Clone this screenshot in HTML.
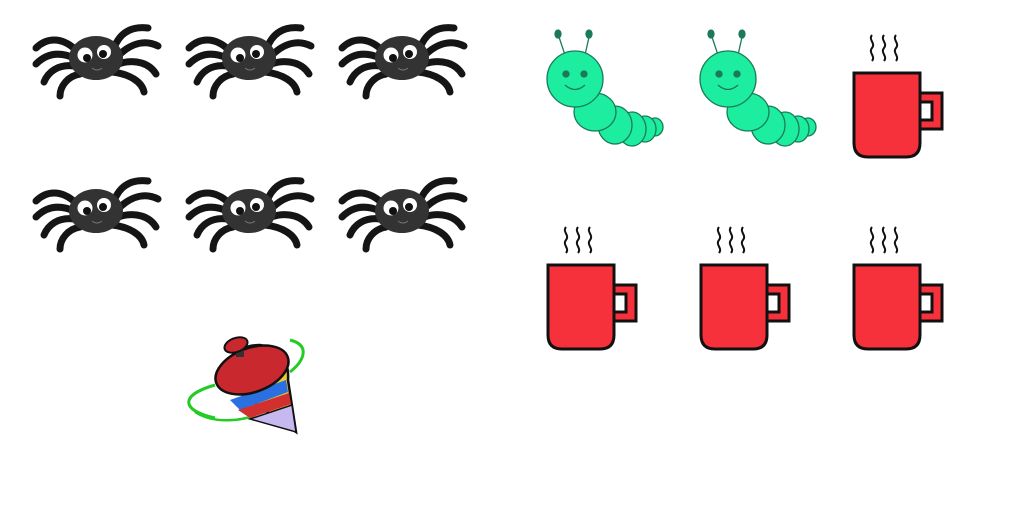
<!DOCTYPE html>
<html><head><meta charset="utf-8"><style>html,body{margin:0;padding:0;background:#fff;width:1024px;height:512px;overflow:hidden}</style></head>
<body>
<svg width="1024" height="512" viewBox="0 0 1024 512">
<defs>
<g id="spider">
  <g fill="none" stroke="#151515" stroke-width="7" stroke-linecap="round">
    <path d="M-20,-8 C-35,-22 -50,-20 -60,-10"/>
    <path d="M-22,0 C-40,-8 -52,-2 -60,6"/>
    <path d="M-22,8 C-38,6 -48,14 -52,24"/>
    <path d="M-16,16 C-28,18 -36,28 -36,38"/>
    <path d="M18,-10 C24,-26 36,-32 52,-30"/>
    <path d="M22,-2 C36,-16 50,-18 62,-12"/>
    <path d="M22,6 C40,0 54,6 60,16"/>
    <path d="M16,14 C34,16 46,24 48,34"/>
  </g>
  <ellipse cx="0" cy="0" rx="27" ry="22" fill="#333"/>
  <circle cx="-11" cy="-3" r="7.5" fill="#fff"/><circle cx="-9" cy="0" r="4" fill="#111"/>
  <circle cx="8" cy="-6" r="7" fill="#fff"/><circle cx="7" cy="-4" r="4" fill="#111"/>
  <path d="M-4,10 Q1,14 6,10" fill="none" stroke="#777" stroke-width="1"/>
</g>
<g id="cat" stroke="#1a7a5a" stroke-width="1.3" fill="#1ded9f">
  <path d="M-10,-24 L-16,-42" fill="none"/><path d="M10,-24 L14,-42" fill="none"/>
  <ellipse cx="-17" cy="-45" rx="3" ry="4" fill="#1a7a5a"/><ellipse cx="14" cy="-45" rx="3" ry="4" fill="#1a7a5a"/>
  <ellipse cx="80" cy="48" rx="8" ry="9"/>
  <ellipse cx="70" cy="50" rx="11" ry="13"/>
  <ellipse cx="57" cy="50" rx="14" ry="17"/>
  <ellipse cx="40" cy="46" rx="17" ry="19"/>
  <ellipse cx="20" cy="33" rx="21" ry="19"/>
  <circle cx="0" cy="0" r="28"/>
  <circle cx="-9" cy="-5" r="3" fill="#1a7a5a"/><circle cx="9" cy="-5" r="3" fill="#1a7a5a"/>
  <path d="M-10,6 Q0,15 10,6" fill="none"/>
</g>
<g id="mug">
  <g fill="none" stroke="#111" stroke-width="2">
    <path d="M20,0 c-4,5 4,8 0,13 c-4,5 4,8 0,13"/>
    <path d="M32,0 c-4,5 4,8 0,13 c-4,5 4,8 0,13"/>
    <path d="M44,0 c-4,5 4,8 0,13 c-4,5 4,8 0,13"/>
  </g>
  <path d="M66,58 h24 v36 h-24" fill="#f7313b" stroke="#111" stroke-width="3"/>
  <rect x="68" y="67" width="12" height="18" fill="#fff" stroke="#111" stroke-width="3"/>
  <path d="M2,38 h66 v70 q0,14 -14,14 h-38 q-14,0 -14,-14 z" fill="#f7313b" stroke="#111" stroke-width="3"/>
</g>
</defs>
<use href="#spider" x="96" y="58"/>
<use href="#spider" x="249" y="58"/>
<use href="#spider" x="402" y="58"/>
<use href="#spider" x="96" y="211"/>
<use href="#spider" x="249" y="211"/>
<use href="#spider" x="402" y="211"/>
<use href="#cat" x="575" y="79"/>
<use href="#cat" x="728" y="79"/>
<use href="#mug" x="852" y="35"/>
<use href="#mug" x="546" y="227"/>
<use href="#mug" x="699" y="227"/>
<use href="#mug" x="852" y="227"/>
<g>
  <path d="M215,385 C180,395 180,410 215,418" fill="none" stroke="#2c2" stroke-width="3"/>
  <path d="M290,340 C310,345 305,360 290,372" fill="none" stroke="#2c2" stroke-width="3"/>
  <path d="M195,412 C215,425 245,420 255,415" fill="none" stroke="#2c2" stroke-width="2.5"/>
  <path d="M218,378 Q230,345 260,345 Q290,350 288,380 L296,432 Z" fill="#f0c830" stroke="#111" stroke-width="2.5"/>
  <path d="M230,400 L286,380 L288,392 L240,410 Z" fill="#2a70e0"/>
  <path d="M238,410 L289,393 L291,404 L250,418 Z" fill="#d03030"/>
  <path d="M250,419 L292,405 L296,432 Z" fill="#c8b8f0" stroke="#111" stroke-width="1.5"/>
  <ellipse cx="252" cy="370" rx="38" ry="22" transform="rotate(-20 252 370)" fill="#c8282e" stroke="#111" stroke-width="2.5"/>
  <rect x="236" y="345" width="8" height="12" fill="#333"/>
  <ellipse cx="236" cy="345" rx="12" ry="7" transform="rotate(-20 236 345)" fill="#c8282e" stroke="#111" stroke-width="2"/>
</g>
</svg>
</body></html>
